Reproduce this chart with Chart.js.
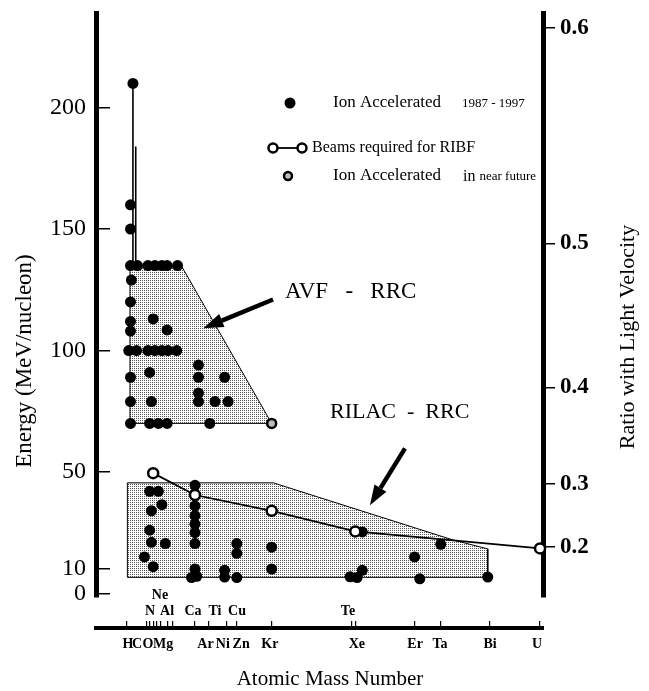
<!DOCTYPE html>
<html>
<head>
<meta charset="utf-8">
<title>Ion beams: AVF-RRC / RILAC-RRC</title>
<script src="https://cdn.jsdelivr.net/npm/chart.js@4.4.1/dist/chart.umd.min.js"></script>
<style>
  html, body { margin: 0; padding: 0; background: #fff; }
  canvas { display: block; }
</style>
</head>
<body>
<canvas id="beamChart" width="649" height="691"></canvas>
<script>
// all pairs are [atomic mass number, energy in MeV/nucleon]
const accelerated = [
  [4.4, 210], [3, 160], [3, 150], [3, 135], [3.5, 129], [3, 120], [3, 112], [3, 108],
  [2, 100], [3, 89], [3, 79], [3, 70],
  [7, 135], [13, 135], [17, 135], [21, 135], [24, 135], [30, 135],
  [6.5, 100], [13, 100], [17, 100], [21, 100], [24.5, 100], [29.5, 100],
  [16, 113], [24, 108.5], [14, 91], [15, 79],
  [42, 94], [42, 89], [57, 89], [42, 82.5], [42, 79], [51.5, 79], [59, 79],
  [14, 70], [19, 70], [24, 70], [48.5, 70],
  [14, 42], [19, 42], [15, 34], [21, 36.5], [14, 26], [15, 21], [23, 20.5], [11, 15], [16, 11],
  [40, 44.5], [40, 36], [40, 32], [40, 28.5], [40, 25], [40, 20.5], [40, 10], [38, 6.5], [41, 7],
  [64, 20.5], [64, 16.5], [57, 9.5], [57, 6.7], [64, 6.5],
  [84, 19], [84, 10],
  [136, 25.3], [129, 6.8], [133, 6.5], [136, 9.5],
  [166, 15], [169, 6], [181, 20.2], [208, 6.7],
];
const nearFuture = [[84, 70]];
const ribfBeams = [[16, 49.5], [40, 40.5], [84, 34], [132, 25.5], [238, 18.5]];
const avfArea = [[2.7, 70], [2.7, 134.5], [32.5, 134.5], [84, 70]];
const rilacArea = [[1.2, 6.6], [1.2, 45.5], [85, 45.5], [188, 22], [208, 18.3], [208, 6.6]];
const guideLines = [
  [[4.4, 210], [4.4, 135]],
  [[6, 184], [6, 135]],
];

const energyTicks = [0, 10, 50, 100, 150, 200];
const betaTicks = [0.2, 0.3, 0.4, 0.5, 0.6];
const massTicks = [1, 12, 14, 16, 18, 20, 24, 27, 40, 48, 58, 64, 84, 130, 132, 166, 181, 209, 238];
const lowerLabels = ["H", "C", "O", "Mg", "Ar", "Ni", "Zn", "Kr", "Xe", "Er", "Ta", "Bi", "U"];
const lowerLabelAt = [1.6, 6.7, 13, 21.7, 46, 56, 66.5, 83, 132.9, 166.3, 180.6, 209.3, 236.3];
const upperLabels = ["N", "Ne", "Al", "Ca", "Ti", "Cu", "Te"];
const upperLabelAt = [14.2, 19.9, 24, 38.9, 51.5, 64.1, 127.8];
const upperLabelRow = [2, 1, 2, 2, 2, 2, 2];

(function () {
  "use strict";
  const SERIF = "'Liberation Serif', 'DejaVu Serif', serif";
  Chart.defaults.font.family = SERIF;
  Chart.defaults.color = "#000";

  const MASS_MIN = -16.8;
  const MASS_MAX = 239.7;
  const AMU = 931.494;
  const betaToEnergy = (b) => AMU * (1 / Math.sqrt(1 - b * b) - 1);

  const toXY = (pairs) => pairs.map(([m, e]) => ({ x: m, y: e }));
  const closed = (pairs) => toXY(pairs.concat([pairs[0]]));

  const stipple = () => {
    const c = document.createElement("canvas");
    c.width = 2;
    c.height = 2;
    const g = c.getContext("2d");
    g.fillStyle = "#fff";
    g.fillRect(0, 0, 2, 2);
    g.fillStyle = "#555";
    g.fillRect(0, 0, 1, 1);
    return g.createPattern(c, "repeat");
  };
  const dots = stipple();

  const notes = [
    { text: "AVF   -   RRC", at: [91.7, 124], size: 23 },
    { text: "RILAC  -  RRC", at: [117.5, 74.6], size: 22 },
  ];
  const arrows = [
    { from: [84.8, 121], to: [44.8, 109.2] },
    { from: [160.5, 59.7], to: [140.4, 36.3] },
  ];

  // fixed axis sizes; also drop the label overhang padding chart.js adds
  const fixWidth = (w) => (s) => {
    s.width = w;
    s.paddingTop = 0;
    s.paddingBottom = 0;
  };
  const fixHeight = (h) => (s) => {
    s.height = h;
    s.paddingLeft = 0;
    s.paddingRight = 0;
  };

  const decorations = {
    id: "decorations",
    afterDraw(chart) {
      const { ctx, scales } = chart;
      const px = (m) => scales.x.getPixelForValue(m);
      const py = (e) => scales.y.getPixelForValue(e);
      ctx.save();
      ctx.fillStyle = "#000";
      ctx.strokeStyle = "#000";
      ctx.textBaseline = "middle";
      ctx.textAlign = "left";

      notes.forEach((n) => {
        ctx.font = n.size + "px " + SERIF;
        ctx.fillText(n.text, px(n.at[0]), py(n.at[1]));
      });

      arrows.forEach((a) => {
        const x0 = px(a.from[0]), y0 = py(a.from[1]);
        const x1 = px(a.to[0]), y1 = py(a.to[1]);
        const ang = Math.atan2(y1 - y0, x1 - x0);
        const head = 20, half = 7;
        const bx = x1 - head * Math.cos(ang), by = y1 - head * Math.sin(ang);
        ctx.lineWidth = 4.5;
        ctx.beginPath();
        ctx.moveTo(x0, y0);
        ctx.lineTo(bx, by);
        ctx.stroke();
        ctx.beginPath();
        ctx.moveTo(x1, y1);
        ctx.lineTo(bx + half * Math.sin(ang), by - half * Math.cos(ang));
        ctx.lineTo(bx - half * Math.sin(ang), by + half * Math.cos(ang));
        ctx.closePath();
        ctx.fill();
      });

      // legend
      ctx.beginPath();
      ctx.arc(290, 103, 5.5, 0, Math.PI * 2);
      ctx.fill();
      ctx.font = "17px " + SERIF;
      ctx.fillText("Ion Accelerated", 333, 103);
      ctx.font = "13px " + SERIF;
      ctx.fillText("1987 - 1997", 462, 104);

      ctx.lineWidth = 1.8;
      ctx.beginPath();
      ctx.moveTo(273, 148);
      ctx.lineTo(302, 148);
      ctx.stroke();
      ctx.lineWidth = 2.5;
      [273, 302].forEach((cx) => {
        ctx.beginPath();
        ctx.arc(cx, 148, 4.5, 0, Math.PI * 2);
        ctx.fillStyle = "#fff";
        ctx.fill();
        ctx.stroke();
      });
      ctx.fillStyle = "#000";
      ctx.font = "16px " + SERIF;
      ctx.fillText("Beams required for RIBF", 312, 148);

      ctx.beginPath();
      ctx.arc(288, 176, 4, 0, Math.PI * 2);
      ctx.fillStyle = "#bbb";
      ctx.fill();
      ctx.stroke();
      ctx.fillStyle = "#000";
      ctx.font = "17px " + SERIF;
      ctx.fillText("Ion Accelerated", 333, 176);
      ctx.font = "16px " + SERIF;
      ctx.fillText("in", 463, 177);
      const inW = ctx.measureText("in ").width;
      ctx.font = "13px " + SERIF;
      ctx.fillText("near future", 463 + inW, 177);

      // axis titles
      const vText = (text, x, y) => {
        ctx.save();
        ctx.translate(x, y);
        ctx.rotate(-Math.PI / 2);
        ctx.textAlign = "center";
        ctx.fillText(text, 0, 0);
        ctx.restore();
      };
      ctx.font = "23px " + SERIF;
      vText("Energy (MeV/nucleon)", 25, 361);
      ctx.font = "22px " + SERIF;
      vText("Ratio with Light Velocity", 628, 337);
      ctx.font = "21px " + SERIF;
      ctx.textAlign = "center";
      ctx.fillText("Atomic Mass Number", 330, 679);
      ctx.restore();
    },
  };

  const xBase = {
    type: "linear",
    axis: "x",
    position: "bottom",
    min: MASS_MIN,
    max: MASS_MAX,
  };

  new Chart(document.getElementById("beamChart"), {
    type: "scatter",
    data: {
      datasets: [
        {
          label: "Beams required for RIBF",
          data: toXY(ribfBeams),
          showLine: true,
          borderColor: "#000",
          borderWidth: 1.8,
          pointRadius: 5,
          pointBorderWidth: 2.5,
          pointBackgroundColor: "#fff",
          pointBorderColor: "#000",
          clip: false,
          order: 0,
        },
        {
          label: "Ion Accelerated in near future",
          data: toXY(nearFuture),
          pointRadius: 4.5,
          pointBorderWidth: 2.5,
          pointBackgroundColor: "#bbb",
          pointBorderColor: "#000",
          clip: false,
          order: 1,
        },
        {
          label: "Ion Accelerated 1987 - 1997",
          data: toXY(accelerated),
          pointRadius: 5.5,
          pointBorderWidth: 0,
          pointBackgroundColor: "#000",
          clip: false,
          order: 2,
        },
        ...guideLines.map((seg) => ({
          data: toXY(seg),
          showLine: true,
          pointRadius: 0,
          borderColor: "#000",
          borderWidth: 1.6,
          order: 3,
        })),
        {
          label: "AVF - RRC",
          data: closed(avfArea),
          showLine: true,
          fill: "shape",
          backgroundColor: dots,
          borderColor: "#000",
          borderWidth: 1,
          pointRadius: 0,
          order: 4,
        },
        {
          label: "RILAC - RRC",
          data: closed(rilacArea),
          showLine: true,
          fill: "shape",
          backgroundColor: dots,
          borderColor: "#000",
          borderWidth: 1,
          pointRadius: 0,
          order: 4,
        },
      ],
    },
    options: {
      responsive: false,
      animation: false,
      events: [],
      layout: { padding: { top: 13, left: 0, right: 0, bottom: 0 } },
      plugins: {
        legend: { display: false },
        tooltip: { enabled: false },
      },
      scales: {
        x: {
          ...xBase,
          weight: 2,
          border: { display: true, color: "#000", width: 4 },
          grid: { drawOnChartArea: false, drawTicks: false },
          afterBuildTicks: (s) => { s.ticks = lowerLabelAt.map((v) => ({ value: v })); },
          afterFit: fixHeight(63),
          ticks: {
            autoSkip: false,
            maxRotation: 0,
            minRotation: 0,
            padding: 9,
            font: { size: 14, weight: "bold", lineHeight: 1 },
            callback: (v, i) => lowerLabels[i],
          },
        },
        xMarks: {
          ...xBase,
          weight: 1,
          border: { display: false },
          grid: { drawOnChartArea: false, drawTicks: true, tickLength: -7, color: "#000", lineWidth: 1.2 },
          afterBuildTicks: (s) => { s.ticks = massTicks.map((v) => ({ value: v })); },
          afterFit: fixHeight(0),
          ticks: { display: false, autoSkip: false },
        },
        xTop: {
          ...xBase,
          weight: 0,
          border: { display: false },
          grid: { display: false, drawTicks: false },
          afterBuildTicks: (s) => { s.ticks = upperLabelAt.map((v) => ({ value: v })); },
          afterFit: fixHeight(31),
          ticks: {
            // mirror keeps the upper "Ne" row from being clipped to the axis box
            mirror: true,
            autoSkip: false,
            maxRotation: 0,
            minRotation: 0,
            padding: -6,
            font: { size: 14, weight: "bold", lineHeight: 1.15 },
            callback: (v, i) => (upperLabelRow[i] === 1 ? [upperLabels[i], ""] : ["", upperLabels[i]]),
          },
        },
        y: {
          type: "linear",
          position: "left",
          min: -1.5,
          max: 239,
          border: { display: true, color: "#000", width: 5 },
          grid: { drawOnChartArea: false, drawTicks: true, tickLength: -14, color: "#000", lineWidth: 1.5 },
          afterBuildTicks: (s) => { s.ticks = energyTicks.map((v) => ({ value: v })); },
          afterFit: fixWidth(96),
          ticks: {
            padding: 24,
            font: { size: 24 },
            callback: (v) => String(v),
          },
        },
        y2: {
          type: "linear",
          axis: "y",
          position: "right",
          min: -1.5,
          max: 239,
          border: { display: true, color: "#000", width: 5 },
          grid: { drawOnChartArea: false, drawTicks: true, tickLength: 12, color: "#000", lineWidth: 1.5 },
          afterBuildTicks: (s) => { s.ticks = betaTicks.map((b) => ({ value: betaToEnergy(b) })); },
          afterFit: fixWidth(106),
          ticks: {
            padding: 5,
            font: { size: 23, weight: "bold" },
            callback: (v, i) => betaTicks[i].toFixed(1),
          },
        },
      },
    },
    plugins: [decorations],
  });
})();
</script>
</body>
</html>
